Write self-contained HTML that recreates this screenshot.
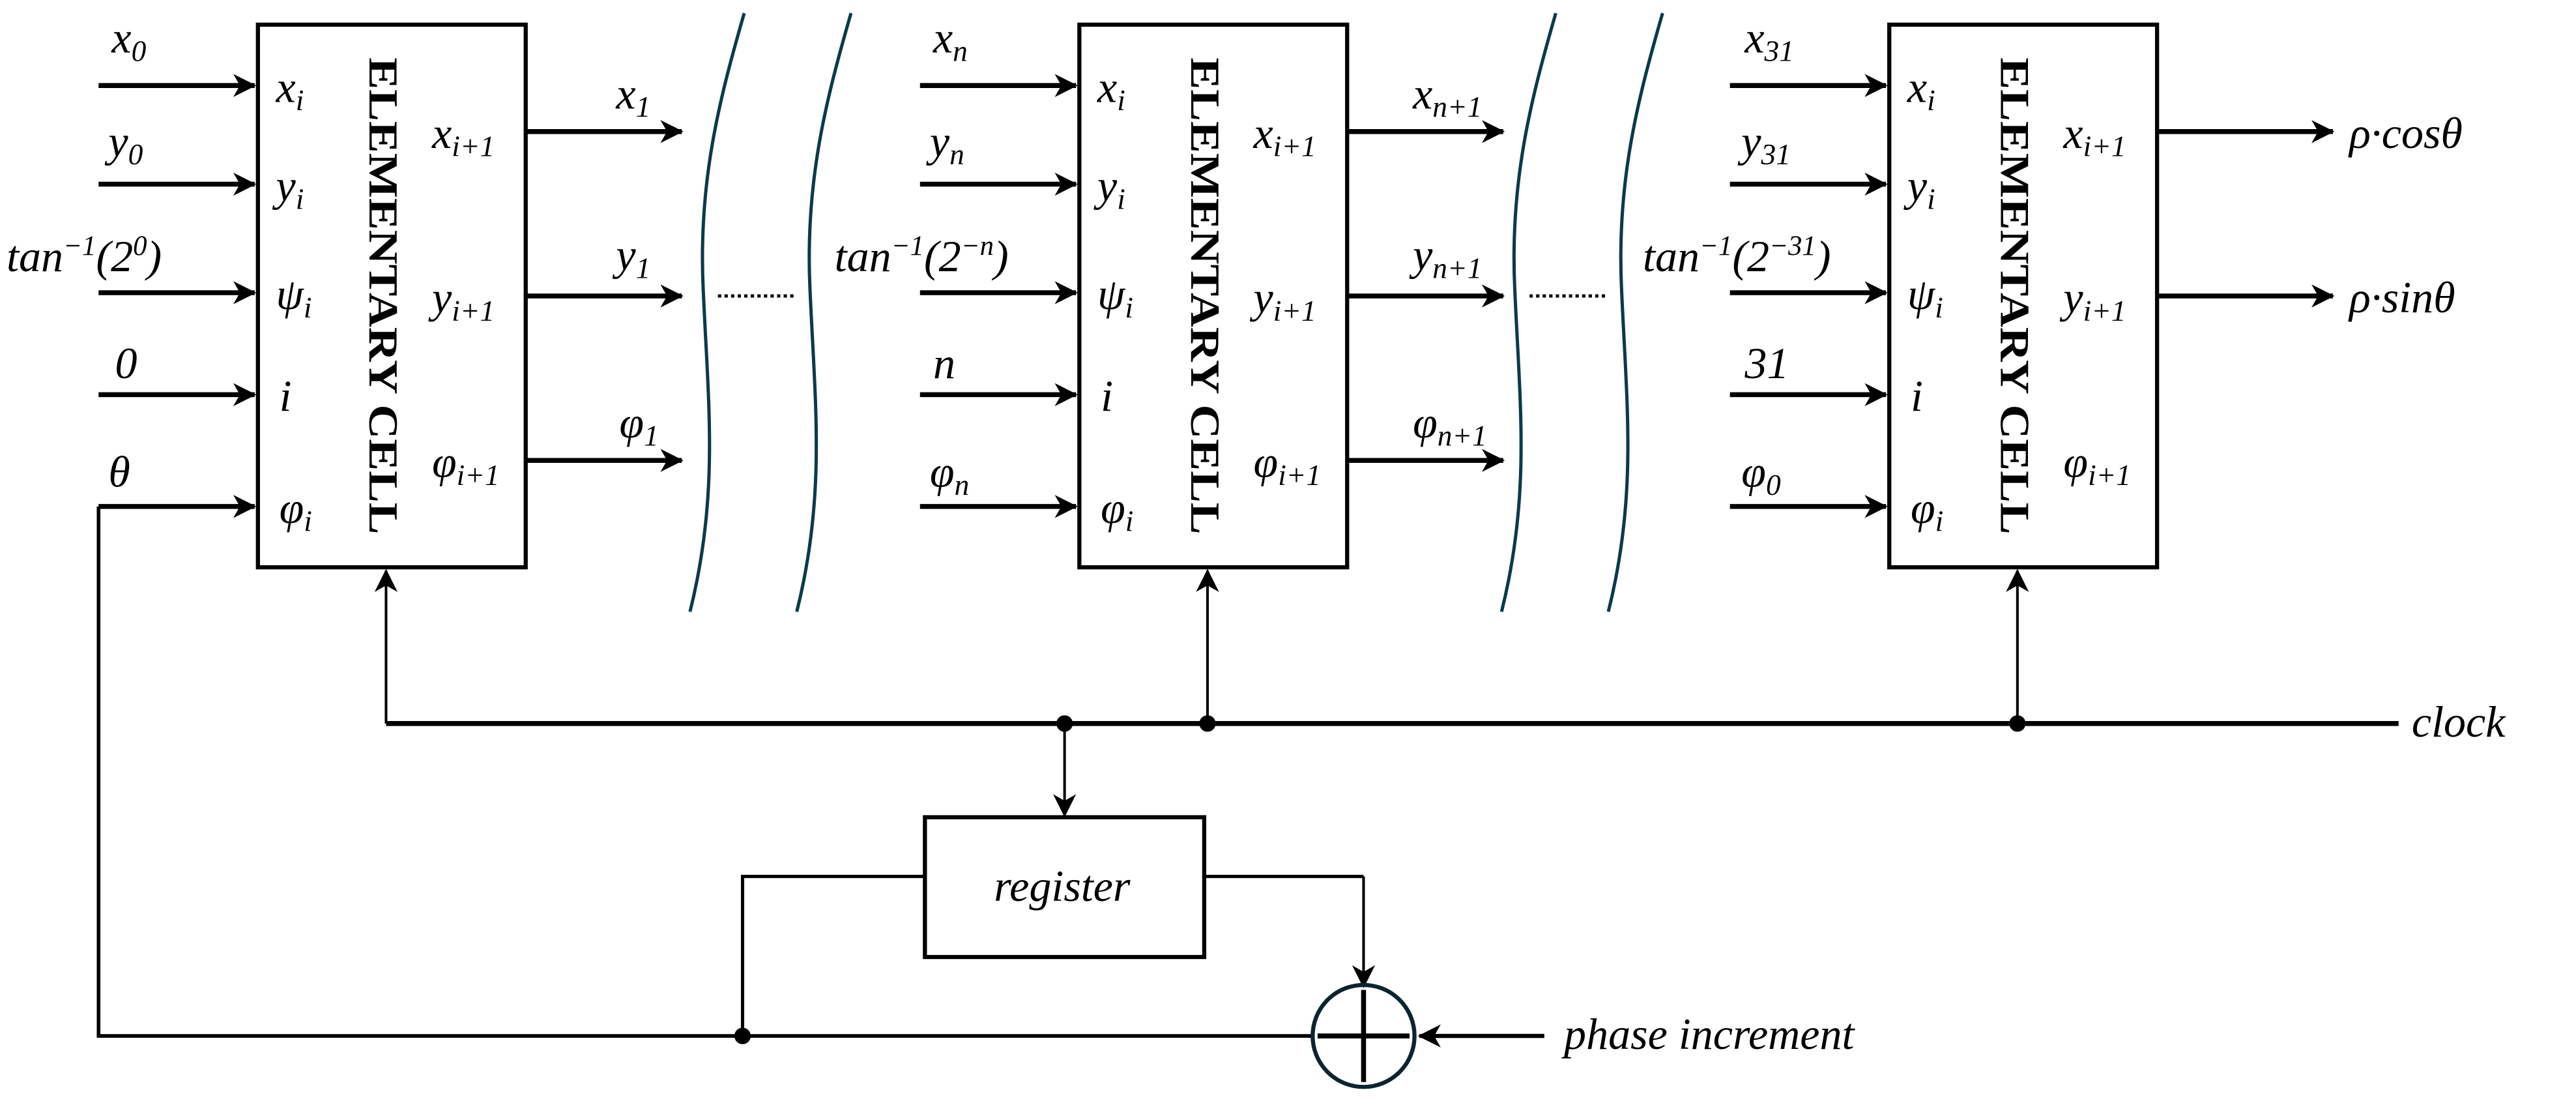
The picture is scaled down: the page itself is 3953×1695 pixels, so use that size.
<!DOCTYPE html>
<html><head><meta charset="utf-8"><style>
html,body{margin:0;padding:0;background:#fff;}
svg{display:block}
text{font-family:"Liberation Serif","DejaVu Serif",serif;font-style:italic;fill:#000}
.b{font-style:normal;font-weight:bold}
</style></head><body>
<svg width="3953" height="1695" viewBox="0 0 1568 672" preserveAspectRatio="none" xmlns="http://www.w3.org/2000/svg">
<defs>
<marker id="a" markerWidth="14" markerHeight="14" refX="13" refY="7" orient="auto" markerUnits="userSpaceOnUse"><path d="M0,0 L14,7 L0,14 L4,7 Z" fill="#000"/></marker>
<marker id="s" markerWidth="14" markerHeight="14" refX="13" refY="7" orient="auto" markerUnits="userSpaceOnUse"><path d="M0,0 L14,7 L0,14 L4,7 Z" fill="#000"/></marker>
</defs>
<g fill="none" stroke="#000">
<rect x="157" y="15" width="163" height="330" stroke-width="2.5"/>
<rect x="657" y="15" width="163" height="330" stroke-width="2.5"/>
<rect x="1150" y="15" width="163" height="330" stroke-width="2.5"/>
<g stroke-width="3" marker-end="url(#a)">
<path d="M60 52H155"/><path d="M60 112H155"/><path d="M60 178H155"/><path d="M60 240H155"/><path d="M60 308H155"/>
<path d="M560 52H655"/><path d="M560 112H655"/><path d="M560 178H655"/><path d="M560 240H655"/><path d="M560 308H655"/>
<path d="M1053 52H1148"/><path d="M1053 112H1148"/><path d="M1053 178H1148"/><path d="M1053 240H1148"/><path d="M1053 308H1148"/>
<path d="M320 80H415"/><path d="M320 180H415"/><path d="M320 280H415"/>
<path d="M820 80H915"/><path d="M820 180H915"/><path d="M820 280H915"/>
<path d="M1313 80H1420"/><path d="M1313 180H1420"/>
</g>
<g stroke="#0b3a4a" stroke-width="2">
<path d="M453 8C438 60 425 110 428 175C431 245 438 300 420 372"/>
<path d="M518 8C503 60 490 110 493 175C496 245 503 300 485 372"/>
<path d="M947 8C932 60 919 110 922 175C925 245 932 300 914 372"/>
<path d="M1012 8C997 60 984 110 987 175C990 245 997 300 979 372"/>
</g>
<path d="M437 180H483M931 180H978" stroke-width="2" stroke-dasharray="2 2"/>
<path d="M235 440H1460" stroke-width="3"/>
<g stroke-width="1.6" marker-end="url(#s)">
<path d="M235 440V347"/><path d="M735 440V347"/><path d="M1228 440V347"/>
<path d="M648 440V496"/>
<path d="M830 533V600"/>
</g>
<rect x="563" y="497" width="170" height="85" stroke-width="2.5"/>
<path d="M563 533H452V630" stroke-width="2"/>
<path d="M733 533H830" stroke-width="2"/>
<path d="M800 630H60V308" stroke-width="2.2"/>
<path d="M940 630H864" stroke-width="2.5" marker-end="url(#s)"/>
<circle cx="830" cy="630" r="31" stroke="#0b2430" stroke-width="2.5"/>
<path d="M830 602V658M802 630H858" stroke-width="3"/>
</g>
<g fill="#000"><circle cx="648" cy="440" r="5"/><circle cx="735" cy="440" r="5"/><circle cx="1228" cy="440" r="5"/><circle cx="452" cy="630" r="5"/></g>
<g font-size="25">
<text class="b" transform="translate(225,180) rotate(90)" text-anchor="middle" textLength="290" lengthAdjust="spacingAndGlyphs">ELEMENTARY CELL</text>
<text class="b" transform="translate(725,180) rotate(90)" text-anchor="middle" textLength="290" lengthAdjust="spacingAndGlyphs">ELEMENTARY CELL</text>
<text class="b" transform="translate(1218,180) rotate(90)" text-anchor="middle" textLength="290" lengthAdjust="spacingAndGlyphs">ELEMENTARY CELL</text>
</g>
<g font-size="27">
<g id="in">
<text x="168" y="62">x<tspan font-size="18" dy="5">i</tspan></text>
<text x="168" y="122">y<tspan font-size="18" dy="5">i</tspan></text>
<text x="168" y="188">ψ<tspan font-size="18" dy="5">i</tspan></text>
<text x="170" y="250">i</text>
<text x="170" y="318">φ<tspan font-size="18" dy="5">i</tspan></text>
<text x="263" y="90">x<tspan font-size="18" dy="5">i+1</tspan></text>
<text x="263" y="190">y<tspan font-size="18" dy="5">i+1</tspan></text>
<text x="263" y="290">φ<tspan font-size="18" dy="5">i+1</tspan></text>
</g>
<use href="#in" x="500"/>
<use href="#in" x="993"/>
<text x="68" y="32">x<tspan font-size="18" dy="5">0</tspan></text>
<text x="66" y="95">y<tspan font-size="18" dy="5">0</tspan></text>
<text x="4" y="165">tan<tspan font-size="17" dy="-10">−1</tspan><tspan dy="10">(2</tspan><tspan font-size="17" dy="-10">0</tspan><tspan dy="10">)</tspan></text>
<text x="70" y="230">0</text>
<text x="66" y="296">θ</text>
<text x="375" y="66">x<tspan font-size="18" dy="5">1</tspan></text>
<text x="375" y="164">y<tspan font-size="18" dy="5">1</tspan></text>
<text x="377" y="266">φ<tspan font-size="18" dy="5">1</tspan></text>
<text x="568" y="32">x<tspan font-size="18" dy="5">n</tspan></text>
<text x="566" y="95">y<tspan font-size="18" dy="5">n</tspan></text>
<text x="508" y="165">tan<tspan font-size="17" dy="-10">−1</tspan><tspan dy="10">(2</tspan><tspan font-size="17" dy="-10">−n</tspan><tspan dy="10">)</tspan></text>
<text x="568" y="230">n</text>
<text x="566" y="296">φ<tspan font-size="18" dy="5">n</tspan></text>
<text x="860" y="66">x<tspan font-size="18" dy="5">n+1</tspan></text>
<text x="860" y="164">y<tspan font-size="18" dy="5">n+1</tspan></text>
<text x="860" y="266">φ<tspan font-size="18" dy="5">n+1</tspan></text>
<text x="1062" y="32">x<tspan font-size="18" dy="5">31</tspan></text>
<text x="1060" y="95">y<tspan font-size="18" dy="5">31</tspan></text>
<text x="1000" y="165">tan<tspan font-size="17" dy="-10">−1</tspan><tspan dy="10">(2</tspan><tspan font-size="17" dy="-10">−31</tspan><tspan dy="10">)</tspan></text>
<text x="1062" y="230">31</text>
<text x="1060" y="296">φ<tspan font-size="18" dy="5">0</tspan></text>
<text x="1430" y="90">ρ·cosθ</text>
<text x="1430" y="190">ρ·sinθ</text>
<text x="1468" y="448">clock</text>
<text x="605" y="548">register</text>
<text x="952" y="638">phase increment</text>
</g>
</svg>
</body></html>
